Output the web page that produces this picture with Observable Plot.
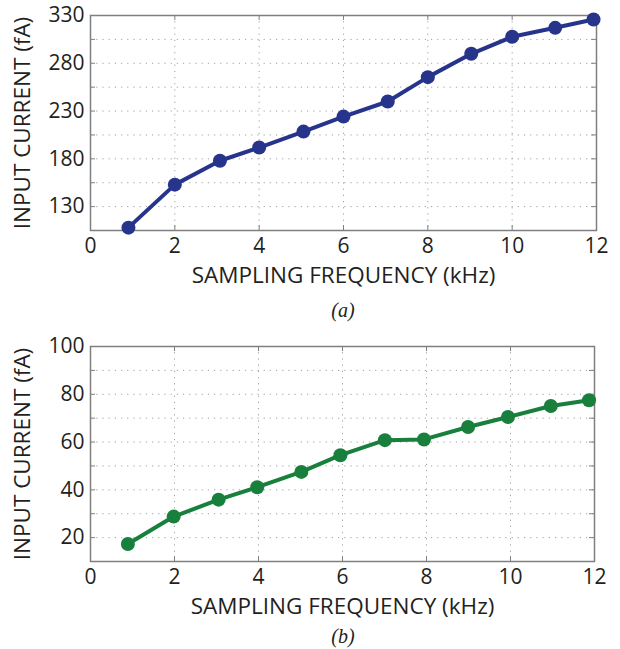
<!DOCTYPE html>
<html>
<head>
<meta charset="utf-8">
<script src="https://cdn.jsdelivr.net/npm/d3@7"></script>
<script src="https://cdn.jsdelivr.net/npm/@observablehq/plot@0.6"></script>
<style>
  html, body { margin: 0; padding: 0; background: #fff; }
  #wrap { width: 620px; }
  .cap { font-family: "Liberation Serif", "DejaVu Serif", serif; font-style: italic; font-size: 20px; text-align: center; color: #231f20; padding-left: 66px; box-sizing: border-box; width: 620px; }
  #capA { height: 40px; line-height: 40px; }
  #capB { height: 29px; line-height: 33px; overflow: visible; }
</style>
</head>
<body>
<div id="wrap"></div>
<script>
// Panel (a)
const freqA = [0.9, 2.0, 3.07, 4.0, 5.05, 6.0, 7.05, 8.0, 9.03, 10.0, 11.02, 11.93];
const currentA = [108, 153, 178, 191.8, 208.5, 224.2, 240, 265.5, 289.9, 307.7, 317.1, 325.8];
// Panel (b)
const freqB = [0.89, 1.98, 3.05, 3.97, 5.02, 5.95, 7.01, 7.94, 8.99, 9.94, 10.96, 11.87];
const currentB = [17.3, 28.8, 35.9, 41.1, 47.5, 54.5, 60.8, 61.1, 66.3, 70.5, 75.1, 77.5];
// Ticks and grid
const xTicks = [0, 2, 4, 6, 8, 10, 12];
const yTicksA = [130, 180, 230, 280, 330];
const yGridA = [130, 155, 180, 205, 230, 255, 280, 305];
const yTicksB = [20, 40, 60, 80, 100];
const yGridB = [20, 30, 40, 50, 60, 70, 80, 90];
const xLabel = "SAMPLING FREQUENCY (kHz)";
const yLabel = "INPUT CURRENT (fA)";

function panel({freq, current, yDomain, yTicks, yGrid, color, marginTop, marginBottom, marginRight, height}) {
  const data = freq.map((f, i) => ({f, c: current[i]}));
  const innerW = 620 - 90 - marginRight;
  const innerH = height - marginTop - marginBottom;
  const gridStyle = {stroke: "#a0a0a0", strokeOpacity: 1, strokeWidth: 1, strokeDasharray: "1.2,5"};
  const svg = Plot.plot({
    width: 620,
    height,
    marginLeft: 90,
    marginRight,
    marginTop,
    marginBottom,
    style: {fontFamily: "'Open Sans', sans-serif", fontSize: "21px", color: "#231f20", background: "#fff", overflow: "visible"},
    x: {domain: [0, 12]},
    y: {domain: yDomain},
    marks: [
      Plot.gridX(xTicks.slice(1, -1), gridStyle),
      Plot.gridY(yGrid, gridStyle),
      Plot.tickY(yGrid, {y: d => d, stroke: "#808080", insetRight: innerW - 5}),
      Plot.tickY(yGrid, {y: d => d, stroke: "#808080", insetLeft: innerW - 5}),
      Plot.tickX(xTicks, {x: d => d, stroke: "#808080", insetTop: innerH - 5}),
      Plot.tickX(xTicks, {x: d => d, stroke: "#808080", insetBottom: innerH - 5}),
      Plot.frame({stroke: "#7f7f7f", strokeWidth: 1.5}),
      Plot.axisX(xTicks, {tickSize: 0, tickPadding: 8, label: xLabel, labelArrow: "none", labelAnchor: "center", labelOffset: 52, fontSize: 21}),
      Plot.axisY(yTicks, {tickSize: 0, tickPadding: 6, label: yLabel, labelArrow: "none", labelAnchor: "center", labelOffset: 76, fontSize: 21}),
      Plot.line(data, {x: "f", y: "c", stroke: color, strokeWidth: 4}),
      Plot.dot(data, {x: "f", y: "c", fill: color, r: 7})
    ]
  });
  d3.select(svg).selectAll('g[aria-label="x-axis label"], g[aria-label="y-axis label"]').attr("font-size", 22.5);
  return svg;
}

const wrap = document.getElementById("wrap");
wrap.append(panel({freq: freqA, current: currentA, yDomain: [105, 330], yTicks: yTicksA, yGrid: yGridA, color: "#27348b", marginTop: 15, marginBottom: 60, marginRight: 24, height: 290}));
const capA = document.createElement("div"); capA.className = "cap"; capA.id = "capA"; capA.textContent = "(a)"; wrap.append(capA);
wrap.append(panel({freq: freqB, current: currentB, yDomain: [10, 100], yTicks: yTicksB, yGrid: yGridB, color: "#18803c", marginTop: 16, marginBottom: 59, marginRight: 26, height: 290}));
const capB = document.createElement("div"); capB.className = "cap"; capB.id = "capB"; capB.textContent = "(b)"; wrap.append(capB);
</script>
</body>
</html>
